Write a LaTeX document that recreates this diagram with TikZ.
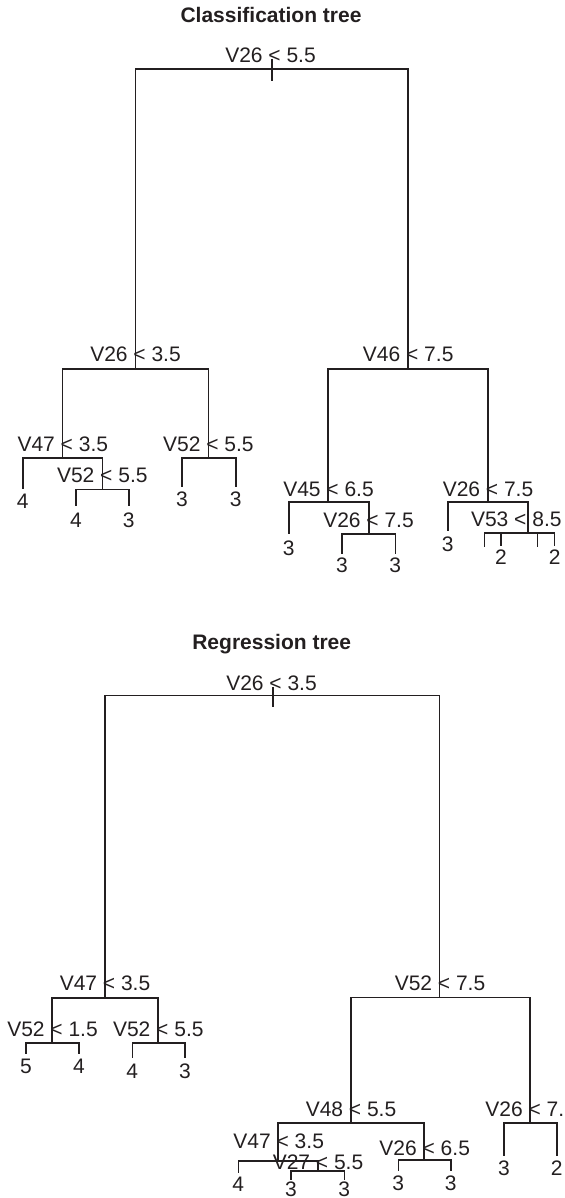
\documentclass[tikz,border=0pt]{standalone}
\usepackage{fontspec}
\setmainfont{Liberation Sans}
\definecolor{ink}{HTML}{231F20}
\begin{document}
\begin{tikzpicture}[x=0.5pt,y=-0.5pt,
  edge/.style={draw=ink,line width=0.8pt,line cap=rect},
  lbl/.style={inner sep=0pt,anchor=base,text=ink,font=\fontsize{10.5}{12}\selectfont},
  ttl/.style={inner sep=0pt,anchor=base,text=ink,font=\fontsize{10.5}{12}\selectfont\bfseries}]
\useasboundingbox (0,0) rectangle (565,1198);
% ================= Classification tree =================
\node[ttl] (t1) at (271,22.7) {Classification tree};
\coordinate (r1) at (271.7,69.3);
\coordinate (r1top) at (271.7,60);
\coordinate (r1bot) at (271.7,80);
\coordinate (a) at (135.5,369);
\coordinate (b) at (408.2,369);
\coordinate (aa) at (62.5,457.7);
\coordinate (ab) at (208.5,457.7);
\coordinate (aa1) at (22.7,488);
\coordinate (aab) at (102.3,489.3);
\coordinate (aab1) at (76,505);
\coordinate (aab2) at (128.7,505);
\coordinate (ab1) at (182,486);
\coordinate (ab2) at (235.7,486);
\coordinate (ba) at (328.2,502);
\coordinate (bb) at (487.7,502);
\coordinate (ba1) at (288.7,533);
\coordinate (bab) at (368.7,534);
\coordinate (bab1) at (342,552.7);
\coordinate (bab2) at (395.3,552.7);
\coordinate (bb1) at (447.7,530.5);
\coordinate (bbb) at (527.8,532.7);
\coordinate (bbba) at (492.6,532.7);
\coordinate (bbbb) at (545.9,532.7);
\coordinate (bbba1) at (484.5,546);
\coordinate (bbba2) at (500.7,545);
\coordinate (bbbb1) at (537.3,546);
\coordinate (bbbb2) at (554.5,545);
\draw[edge] (r1top) -- (r1bot);
\foreach \p/\c in {r1/a,r1/b,a/aa,a/ab,aa/aa1,aa/aab,aab/aab1,aab/aab2,ab/ab1,ab/ab2,
  b/ba,b/bb,ba/ba1,ba/bab,bab/bab1,bab/bab2,bb/bb1,bb/bbb,bbb/bbba,bbb/bbbb,
  bbba/bbba1,bbba/bbba2,bbbb/bbbb1,bbbb/bbbb2}
  \draw[edge] (\p) -| (\c);
\node[lbl] (lr1) at (270.5,62.7) {V26 < 5.5};
\node[lbl] (la) at (135.5,361.7) {V26 < 3.5};
\node[lbl] (lb) at (408.2,361.7) {V46 < 7.5};
\node[lbl] (laa) at (62.8,451.7) {V47 < 3.5};
\node[lbl] (lab) at (208.4,451.7) {V52 < 5.5};
\node[lbl] (laab) at (102.3,482.7) {V52 < 5.5};
\node[lbl] (lba) at (328.5,496) {V45 < 6.5};
\node[lbl] (lbb) at (488,496) {V26 < 7.5};
\node[lbl] (lbab) at (368.5,527.3) {V26 < 7.5};
\node[lbl] (lbbb) at (516.3,526.7) {V53 < 8.5};
\node[lbl] (n1) at (22.7,508.3) {4};
\node[lbl] (n2) at (76,527.3) {4};
\node[lbl] (n3) at (128.7,527.3) {3};
\node[lbl] (n4) at (182,506) {3};
\node[lbl] (n5) at (235.7,506) {3};
\node[lbl] (n6) at (288.7,555) {3};
\node[lbl] (n7) at (342,572.7) {3};
\node[lbl] (n8) at (395.3,572.7) {3};
\node[lbl] (n9) at (447.7,551.7) {3};
\node[lbl] (n10) at (500.9,564) {2};
\node[lbl] (n11) at (554.7,564) {2};
% ================= Regression tree =================
\node[ttl] (t2) at (271.7,649.5) {Regression tree};
\coordinate (r2) at (272.7,695.3);
\coordinate (r2top) at (272.7,688);
\coordinate (r2bot) at (272.7,706);
\coordinate (c) at (104.8,997.7);
\coordinate (d) at (439.6,997.5);
\coordinate (ca) at (52,1042.7);
\coordinate (cb) at (158.2,1042.7);
\coordinate (ca1) at (26,1053.3);
\coordinate (ca2) at (79,1053.3);
\coordinate (cb1) at (132.3,1056.7);
\coordinate (cb2) at (185,1056.7);
\coordinate (da) at (351,1122.7);
\coordinate (db) at (530,1122.7);
\coordinate (db1) at (504,1155);
\coordinate (db2) at (556.7,1155);
\coordinate (daa) at (277.7,1161);
\coordinate (dab) at (424,1160);
\coordinate (daa1) at (238.3,1171.7);
\coordinate (daab) at (317.7,1170.7);
\coordinate (daab1) at (291,1179.3);
\coordinate (daab2) at (344.3,1179.3);
\coordinate (dab1) at (398.3,1170);
\coordinate (dab2) at (450.7,1170);
\draw[edge] (r2top) -- (r2bot);
\foreach \p/\c in {r2/c,r2/d,c/ca,c/cb,ca/ca1,ca/ca2,cb/cb1,cb/cb2,d/da,d/db,db/db1,db/db2,
  da/daa,da/dab,daa/daa1,daa/daab,daab/daab1,daab/daab2,dab/dab1,dab/dab2}
  \draw[edge] (\p) -| (\c);
\node[lbl] (lr2) at (271.5,690) {V26 < 3.5};
\node[lbl] (lc) at (105,990) {V47 < 3.5};
\node[lbl] (lca) at (52.5,1036.7) {V52 < 1.5};
\node[lbl] (lcb) at (158.3,1036.7) {V52 < 5.5};
\node[lbl] (ld) at (440,990) {V52 < 7.5};
\node[lbl] (lda) at (351,1116.7) {V48 < 5.5};
\node[lbl,anchor=base west] (ldb) at (485,1116.7) {V26 < 7.};
\node[lbl] (ldaa) at (278.7,1148.3) {V47 < 3.5};
\node[lbl] (ldaab) at (318,1169.3) {V27 < 5.5};
\node[lbl] (ldab) at (424.7,1155.7) {V26 < 6.5};
\node[lbl] (m1) at (26,1073.3) {5};
\node[lbl] (m2) at (79,1073.3) {4};
\node[lbl] (m3) at (132.3,1078.3) {4};
\node[lbl] (m4) at (185,1078.3) {3};
\node[lbl] (m5) at (238.3,1191.7) {4};
\node[lbl] (m6) at (291,1196.3) {3};
\node[lbl] (m7) at (344.3,1196.3) {3};
\node[lbl] (m8) at (398.3,1190) {3};
\node[lbl] (m9) at (450.7,1190) {3};
\node[lbl] (m10) at (504,1175) {3};
\node[lbl] (m11) at (556.7,1175) {2};
\end{tikzpicture}
\end{document}
